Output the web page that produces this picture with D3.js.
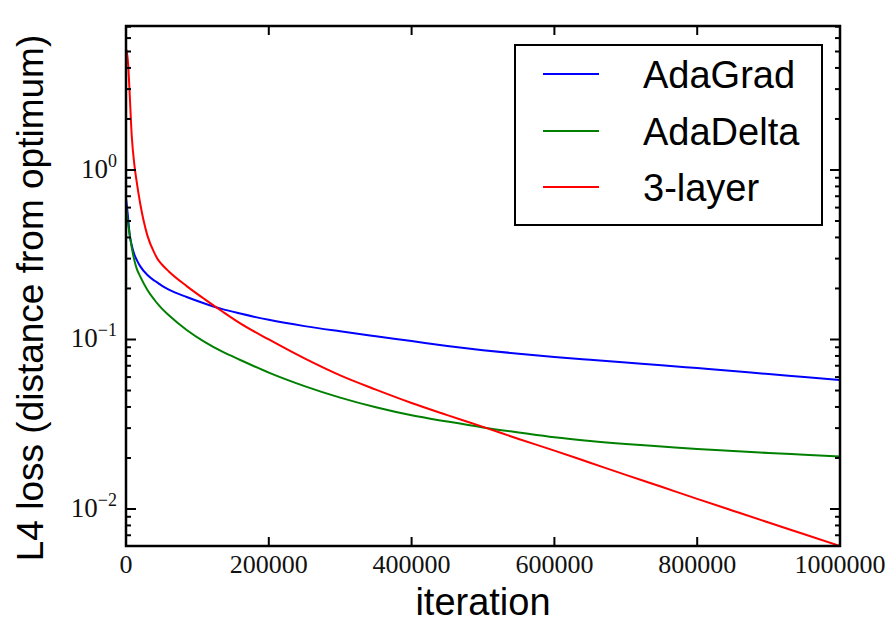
<!DOCTYPE html>
<html>
<head>
<meta charset="utf-8">
<script src="https://cdn.jsdelivr.net/npm/d3@7"></script>
<style>
  body { margin: 0; background: #fff; }
  svg { display: block; }
</style>
</head>
<body>
<svg id="chart" width="891" height="623"></svg>
<script>
// iteration grid shared by all three optimizers
var iterations = [0, 3000, 5000, 8000, 12000, 15000, 20000, 30000, 40000, 45000, 50000, 60000,
  85000, 110000, 135000, 160000, 200000, 250000, 300000, 350000, 400000, 450000,
  500000, 550000, 600000, 650000, 700000, 750000, 800000, 850000, 900000, 950000, 1000000];

// L4 loss for each method
var adaGrad = [0.68, 0.52, 0.42, 0.36, 0.315, 0.295, 0.27, 0.24, 0.222, 0.215, 0.208, 0.197,
  0.178, 0.163, 0.151, 0.1422, 0.1306, 0.1199, 0.1117, 0.1045, 0.0979, 0.0916,
  0.0865, 0.0824, 0.0789, 0.0759, 0.0731, 0.0705, 0.0678, 0.0652, 0.0625, 0.0601, 0.0577];
var adaDelta = [0.62, 0.48, 0.42, 0.35, 0.29, 0.262, 0.235, 0.196, 0.171, 0.161, 0.1525, 0.139,
  0.1138, 0.0968, 0.0847, 0.0757, 0.0638, 0.0531, 0.0454, 0.0398, 0.0357, 0.0328,
  0.0303, 0.0283, 0.0265, 0.0252, 0.0242, 0.0234, 0.0226, 0.0220, 0.0214, 0.0209, 0.0204];
var threeLayer = [5.2, 4.2, 2.9, 1.6, 1.05, 0.85, 0.63, 0.41, 0.322, 0.295, 0.278, 0.252,
  0.2065, 0.173, 0.1462, 0.1245, 0.100, 0.0773, 0.0614, 0.0506, 0.0422, 0.0358,
  0.0305, 0.0259, 0.0221, 0.01875, 0.0159, 0.01352, 0.01148, 0.00977, 0.00832, 0.00710, 0.00605];

var seriesNames = ["AdaGrad", "AdaDelta", "3-layer"];
var seriesColors = ["#0000ff", "#008000", "#ff0000"];
var xTicks = [0, 200000, 400000, 600000, 800000, 1000000];
var yExponents = [0, -1, -2];

var plotL = 126, plotR = 840, plotT = 26, plotB = 546;

var svg = d3.select("#chart");

var x = d3.scaleLinear().domain([0, 1000000]).range([plotL, plotR]);
var y = d3.scaleLog().domain([0.00605, 7.07]).range([plotB, plotT]);

svg.append("clipPath").attr("id", "plot-clip")
  .append("rect")
  .attr("x", plotL).attr("y", plotT)
  .attr("width", plotR - plotL).attr("height", plotB - plotT);

// curves
var line = d3.line()
  .x(function(d) { return x(d[0]); })
  .y(function(d) { return y(d[1]); })
  .curve(d3.curveMonotoneX);

var series = [adaGrad, adaDelta, threeLayer];
svg.append("g").attr("clip-path", "url(#plot-clip)")
  .selectAll("path")
  .data(series)
  .enter()
  .append("path")
  .attr("d", function(vals) {
    return line(iterations.map(function(it, i) { return [it, vals[i]]; }));
  })
  .attr("fill", "none")
  .attr("stroke", function(d, i) { return seriesColors[i]; })
  .attr("stroke-width", 2);

// log ticks: decades get long marks, 2..9 get short ones
var yTicks = [];
for (var k = -3; k <= 0; k++) {
  for (var m = 1; m <= 9; m++) {
    var v = m * Math.pow(10, k);
    if (v >= y.domain()[0] && v <= y.domain()[1]) yTicks.push({ v: v, major: m === 1 });
  }
}

var ticks = svg.append("g");
[plotL, plotR].forEach(function(edge) {
  var dir = edge === plotL ? 1 : -1;
  ticks.selectAll(null)
    .data(yTicks)
    .enter()
    .append("line")
    .attr("x1", edge)
    .attr("x2", function(d) { return edge + dir * (d.major ? 10 : 5); })
    .attr("y1", function(d) { return y(d.v); })
    .attr("y2", function(d) { return y(d.v); })
    .style("stroke", "#000")
    .style("stroke-width", "2px");
});
[plotB, plotT].forEach(function(edge) {
  var dir = edge === plotB ? -1 : 1;
  ticks.selectAll(null)
    .data(xTicks)
    .enter()
    .append("line")
    .attr("x1", function(d) { return x(d); })
    .attr("x2", function(d) { return x(d); })
    .attr("y1", edge)
    .attr("y2", edge + dir * 9)
    .style("stroke", "#000")
    .style("stroke-width", "2px");
});

// frame
svg.append("rect")
  .attr("x", plotL).attr("y", plotT)
  .attr("width", plotR - plotL).attr("height", plotB - plotT)
  .attr("fill", "none").attr("stroke", "#000").attr("stroke-width", 2.5);

// tick labels
svg.append("g").selectAll("text")
  .data(xTicks)
  .enter()
  .append("text")
  .attr("x", function(d) { return x(d); })
  .attr("y", 573)
  .attr("text-anchor", "middle")
  .attr("font-family", "Liberation Serif, serif")
  .attr("font-size", "26px")
  .attr("fill", "#111")
  .text(function(d) { return d; });

var yl = svg.append("g").selectAll("text")
  .data(yExponents)
  .enter()
  .append("text")
  .attr("x", 117)
  .attr("y", function(d) { return y(Math.pow(10, d)) + 8; })
  .attr("text-anchor", "end")
  .attr("font-family", "Liberation Serif, serif")
  .attr("fill", "#111");
yl.append("tspan").attr("font-size", "27px").text("10");
yl.append("tspan").attr("font-size", "18px").attr("dy", -11)
  .text(function(d) { return d < 0 ? "\u2212" + (-d) : String(d); });

// axis titles
svg.append("text")
  .attr("x", (plotL + plotR) / 2)
  .attr("y", 615)
  .attr("text-anchor", "middle")
  .attr("font-family", "Liberation Sans, Arial, sans-serif")
  .attr("font-size", "38px")
  .text("iteration");

svg.append("text")
  .attr("transform", "translate(43,298) rotate(-90)")
  .attr("text-anchor", "middle")
  .attr("font-family", "Liberation Sans, Arial, sans-serif")
  .attr("font-size", "37px")
  .text("L4 loss (distance from optimum)");

// legend
var legend = svg.append("g");
legend.append("rect")
  .attr("x", 515).attr("y", 45)
  .attr("width", 307).attr("height", 180)
  .attr("fill", "#fff").attr("stroke", "#000").attr("stroke-width", 2);

var rowY = [74, 131, 187];
var items = legend.selectAll("g.item")
  .data(seriesNames)
  .enter()
  .append("g").attr("class", "item");
items.append("line")
  .attr("x1", 543).attr("x2", 599)
  .attr("y1", function(d, i) { return rowY[i]; })
  .attr("y2", function(d, i) { return rowY[i]; })
  .attr("stroke", function(d, i) { return seriesColors[i]; })
  .attr("stroke-width", 2);
items.append("text")
  .attr("x", 643)
  .attr("y", function(d, i) { return rowY[i] + 14; })
  .attr("font-family", "Liberation Sans, Arial, sans-serif")
  .attr("font-size", "38px")
  .text(function(d) { return d; });
</script>
</body>
</html>
